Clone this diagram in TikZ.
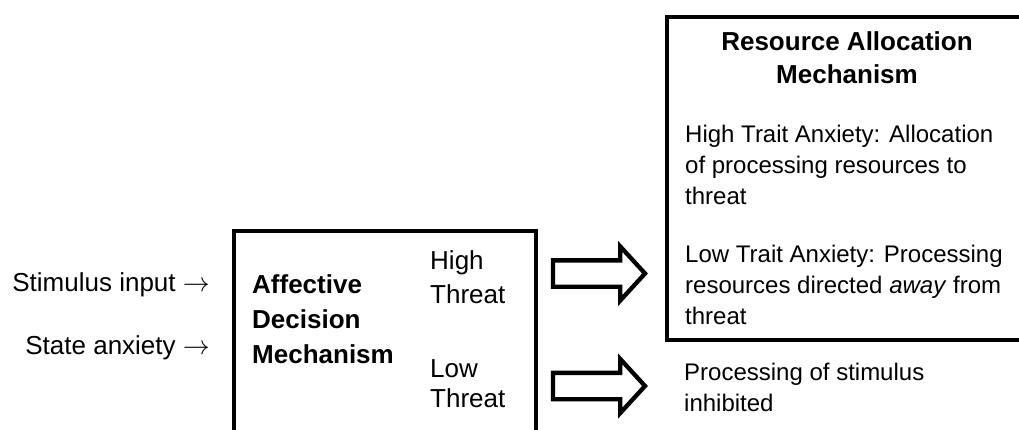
\documentclass[tikz,border=0pt]{standalone}
\usepackage{fontspec}
\setmainfont{Liberation Sans}
\usetikzlibrary{shapes.arrows}
\newcommand{\inarrow}{\scalebox{1.08}{$\rightarrow$}}
\begin{document}
\begin{tikzpicture}[x=1pt,y=-1pt,
  frame/.style={draw=black, line width=4.3pt, inner sep=0pt, anchor=north west},
  blockarrow/.style={single arrow, draw=black, fill=white, line width=4.3pt,
    line join=miter, inner xsep=0pt, inner ysep=11pt, minimum height=92pt,
    single arrow head extend=14pt, single arrow tip angle=95},
  big/.style={inner sep=0pt, align=left, font=\fontsize{26}{35}\selectfont},
  bigbold/.style={big, font=\fontsize{26}{35}\selectfont\bfseries},
  body/.style={inner sep=0pt, align=left, font=\fontsize{24}{31}\selectfont},
]
\useasboundingbox (0,0) rectangle (1019,430);
\clip (0,0) rectangle (1019,430);

% inputs on the left
\node[big, anchor=base east] (stim) at (210,291) {Stimulus input \inarrow};
\node[big, anchor=base east] (state) at (210,354) {State anxiety \inarrow};

% affective decision mechanism (runs off the bottom edge)
\node[frame, minimum width=302pt, minimum height=240pt] (adm) at (232,229) {};
\node[bigbold, anchor=base west] (admtitle) at (252,363) {Affective\\Decision\\Mechanism};
\node[big, anchor=base west, font=\fontsize{26}{34}\selectfont] (high) at (430,303) {High\\Threat};
\node[big, anchor=base west, font=\fontsize{26}{30}\selectfont] (low) at (430,407) {Low\\Threat};

% block arrows out of the decision mechanism
\node[blockarrow] (arrHigh) at (593,273.5) {};
\node[blockarrow] (arrLow) at (593,386) {};

% resource allocation mechanism (runs off the right edge)
\node[frame, minimum width=400pt, minimum height=323.3pt] (ram) at (664.5,14.7) {};
\node[inner sep=0pt, align=center, font=\fontsize{26}{33}\selectfont\bfseries, anchor=base]
  (ramtitle) at (847,84) {Resource Allocation\\Mechanism};
\node[body, anchor=base west] (hta) at (685,205)
  {High Trait Anxiety: Allocation\\of processing resources to\\threat};
\node[body, anchor=base west] (lta) at (685,324)
  {Low Trait Anxiety: Processing\\resources directed \textit{away} from\\threat};

% outcome of low threat
\node[body, anchor=base west] (inhib) at (684,411) {Processing of stimulus\\inhibited};
\end{tikzpicture}
\end{document}
